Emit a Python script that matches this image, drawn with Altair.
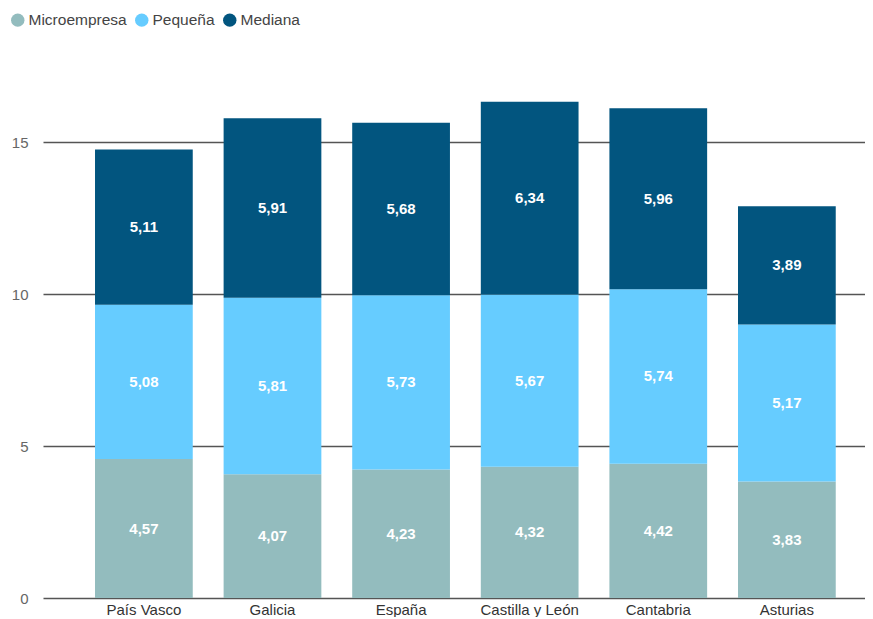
import altair as alt
import pandas as pd

regions = ["País Vasco", "Galicia", "España", "Castilla y León", "Cantabria", "Asturias"]
series = ["Microempresa", "Pequeña", "Mediana"]
micro = [4.57, 4.07, 4.23, 4.32, 4.42, 3.83]
pequena = [5.08, 5.81, 5.73, 5.67, 5.74, 5.17]
mediana = [5.11, 5.91, 5.68, 6.34, 5.96, 3.89]
colors = ["#93BCBE", "#66CCFF", "#02557F"]
y_ticks = [0, 5, 10, 15]

rows = []
for i, r in enumerate(regions):
    for j, (s, vals) in enumerate(zip(series, [micro, pequena, mediana])):
        rows.append({"region": r, "serie": s, "idx": j, "value": vals[i]})
df = pd.DataFrame(rows)

FONT = "Liberation Sans"

base = alt.Chart(df).transform_stack(
    stack="value", as_=["v0", "v1"], groupby=["region"],
    sort=[alt.SortField("idx", order="ascending")]
).transform_calculate(
    mid="(datum.v0 + datum.v1) / 2",
    label="replace(format(datum.value, '.2f'), '.', ',')"
)

x_enc = alt.X(
    "region:N", sort=regions, title=None,
    scale=alt.Scale(paddingInner=0.24, paddingOuter=0.316, align=0.64),
    axis=alt.Axis(labelAngle=0, ticks=False, domain=False, grid=False,
                  labelFontSize=15, labelColor="#333333", labelPadding=4,
                  labelFont=FONT),
)
y_scale = alt.Scale(domain=[0, 18], nice=False)

bars = base.mark_bar().encode(
    x=x_enc,
    y=alt.Y("v0:Q", scale=y_scale, title=None,
            axis=alt.Axis(values=y_ticks, ticks=False, domain=False, grid=True,
                          gridColor="#555555", gridWidth=1.6,
                          labelFontSize=15, labelColor="#666666",
                          labelPadding=15, labelFont=FONT)),
    y2="v1:Q",
    color=alt.Color("serie:N", scale=alt.Scale(domain=series, range=colors),
                    legend=alt.Legend(title=None, orient="none", legendX=-33, legendY=-39,
                                      direction="horizontal", symbolType="circle",
                                      symbolSize=180, symbolStrokeWidth=0,
                                      labelFontSize=15.5, labelColor="#444444",
                                      labelFont=FONT, columnPadding=7, labelOffset=3)),
    order=alt.Order("idx:Q", sort="ascending"),
)

texts = base.mark_text(color="white", fontWeight="bold", fontSize=15, font=FONT).encode(
    x=alt.X("region:N", sort=regions),
    y=alt.Y("mid:Q", scale=y_scale),
    text="label:N",
)

chart = alt.layer(bars, texts).properties(
    width=822, height=547,
    padding={"left": 2, "top": 4, "right": 0, "bottom": 0},
).configure_view(stroke=None)

chart.save("out.html", embed_options={"renderer": "svg", "actions": False})
